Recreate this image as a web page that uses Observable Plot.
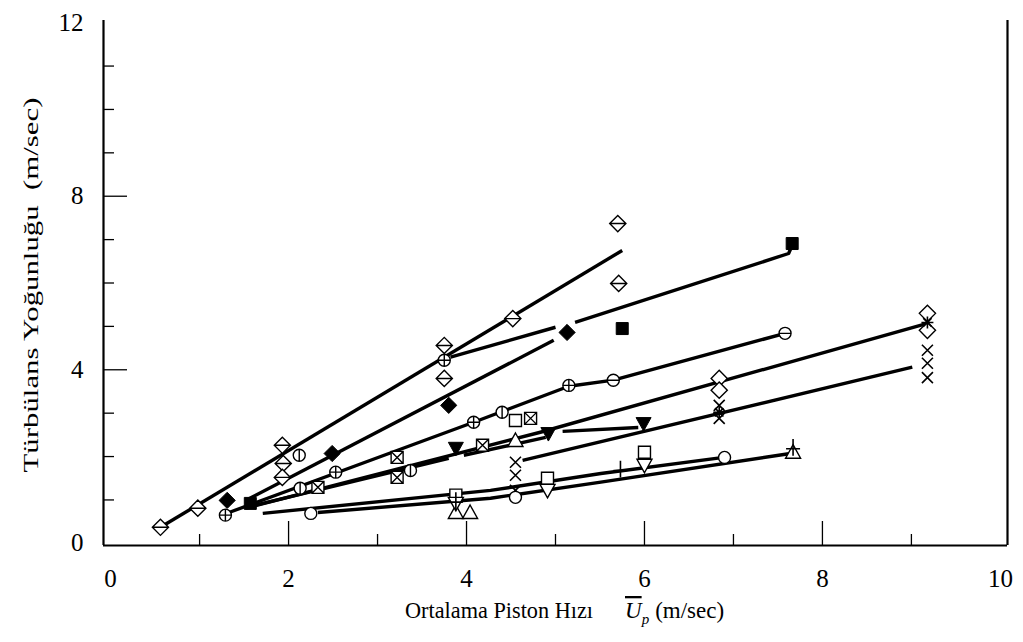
<!DOCTYPE html>
<html><head><meta charset="utf-8">
<script src="https://cdn.jsdelivr.net/npm/d3@7"></script>
<script src="https://cdn.jsdelivr.net/npm/@observablehq/plot@0.6"></script>
<style>
body{margin:0;background:#fff}
svg text{font-family:"Liberation Serif",serif !important;}
</style>
</head><body><div id="chart"></div>
<script>
// ---- axis ticks ----
const xLabelTicks = [0, 2, 4, 6, 8, 10];
const yLabelTicks = [0, 4, 8, 12];
const xMajorTicks = [2, 4, 6, 8];
const xMinorTicks = [1, 3, 5, 7, 9];
const yMajorTicks = [4, 8];
const yMinorTicks = [1, 2, 3, 5, 6, 7, 9, 10, 11];
const xTitle = "Ortalama Piston Hızı";
const yTitle = "Türbülans Yoğunluğu  (m/sec)";

// ---- fitted lines (mean piston speed, turbulence intensity) ----
const lineA  = [[0.56,0.37],[5.75,6.75]];
const lineB  = [[1.52,0.99],[4.98,4.68]];
const lineC1 = [[3.82,4.29],[5.00,4.98]];
const lineC2 = [[5.22,5.09],[7.62,6.68],[7.66,6.87]];
const lineD  = [[1.33,0.71],[4.08,2.79],[5.15,3.62],[5.65,3.76],[7.58,4.84]];
const lineE  = [[1.52,0.81],[4.83,2.56],[9.18,5.07]];
const lineF  = [[4.63,1.91],[9.01,4.06]];
const lineG  = [[1.71,0.69],[4.27,1.22],[5.51,1.61],[6.89,1.98]];
const lineH  = [[2.33,0.71],[4.27,1.04],[5.51,1.41],[7.64,2.07]];
const lineI1 = [[1.63,0.88],[3.80,1.96]];
const lineI2 = [[3.97,2.03],[4.89,2.44]];
const lineI3 = [[5.08,2.58],[5.93,2.67]];

// ---- measured points, one array per symbol ----
const diamondBarPts = [[0.56,0.37],[0.98,0.81],[1.93,2.26],[1.94,1.84],[1.93,1.52],[3.75,4.56],[3.75,3.80],[4.52,5.18],[5.70,7.37],[5.71,5.99]];
const openDiamondPts = [[9.18,5.30],[9.18,4.91],[6.84,3.80],[6.84,3.53]];
const timesPts = [[9.18,4.45],[9.18,4.15],[9.18,3.82],[6.84,3.18],[6.84,2.88],[4.55,1.87],[4.55,1.57],[4.55,1.22]];
const asteriskPts = [[9.18,5.09],[6.84,3.02]];
const circlePlusPts = [[1.29,0.65],[2.53,1.64],[3.75,4.22],[4.08,2.79],[5.15,3.64]];
const circleMinusPts = [[5.65,3.76],[7.58,4.84]];
const circleVertPts = [[2.12,2.03],[2.13,1.27],[3.37,1.68],[4.40,3.02]];
const squareXPts = [[2.33,1.29],[3.22,1.52],[3.22,1.98],[4.18,2.26],[4.72,2.88]];
const openCirclePts = [[2.25,0.69],[4.55,1.06],[6.90,1.98]];
const openSquarePts = [[3.88,1.11],[4.91,1.50],[6.00,2.10],[4.55,2.83]];
const triangleUpPts = [[3.88,0.71],[4.04,0.71],[4.55,2.37],[7.67,2.10]];
const triangleDownPts = [[3.88,0.92],[4.91,1.22],[6.00,1.80]];
const filledTriDownPts = [[3.88,2.19],[4.92,2.53],[5.99,2.76]];
const filledDiamondPts = [[1.31,0.99],[2.49,2.07],[3.80,3.18],[5.13,4.86]];
const filledSquarePts = [[1.57,0.92],[5.75,4.95],[7.66,6.91]];
const plusPts = [[5.73,1.68],[7.67,2.18],[3.88,0.95]];

// ---- build line table ----
const lineSets = {lineA,lineB,lineC1,lineC2,lineD,lineE,lineF,lineG,lineH,lineI1,lineI2,lineI3};
const lineTable = Object.entries(lineSets).flatMap(([id, pts]) => pts.map(([x,y]) => ({id, x, y})));

// ---- custom symbols ----
const sym = f => ({draw(c, size){ const r = Math.sqrt(size/Math.PI); f(c, r); }});
const diamondPath = (c,a) => {c.moveTo(0,-a);c.lineTo(a,0);c.lineTo(0,a);c.lineTo(-a,0);c.closePath();};
const diamondBar = sym((c,r)=>{const a=r*1.35; diamondPath(c,a); c.moveTo(-a,0); c.lineTo(a,0);});
const diamondOpen = sym((c,r)=>{diamondPath(c,r*1.35);});
const circleOnly = sym((c,r)=>{c.moveTo(r,0); c.arc(0,0,r,0,2*Math.PI);});
const circlePlus = sym((c,r)=>{c.moveTo(r,0); c.arc(0,0,r,0,2*Math.PI); c.moveTo(-r,0);c.lineTo(r,0);c.moveTo(0,-r);c.lineTo(0,r);});
const circleMinus = sym((c,r)=>{c.moveTo(r,0); c.arc(0,0,r,0,2*Math.PI); c.moveTo(-r,0);c.lineTo(r,0);});
const circleVert = sym((c,r)=>{c.moveTo(r,0); c.arc(0,0,r,0,2*Math.PI); c.moveTo(0,-r);c.lineTo(0,r);});
const squareOnly = sym((c,r)=>{c.rect(-r,-r,2*r,2*r);});
const squareX = sym((c,r)=>{c.rect(-r,-r,2*r,2*r); c.moveTo(-r,-r);c.lineTo(r,r);c.moveTo(r,-r);c.lineTo(-r,r);});
const triUp = sym((c,r)=>{const a=r*1.25; c.moveTo(0,-a); c.lineTo(a,a*0.8); c.lineTo(-a,a*0.8); c.closePath();});
const triDown = sym((c,r)=>{const a=r*1.25; c.moveTo(0,a); c.lineTo(a,-a*0.8); c.lineTo(-a,-a*0.8); c.closePath();});
const timesSym = sym((c,r)=>{c.moveTo(-r,-r);c.lineTo(r,r);c.moveTo(r,-r);c.lineTo(-r,r);});
const plusSym = sym((c,r)=>{c.moveTo(-r,0);c.lineTo(r,0);c.moveTo(0,-r*1.4);c.lineTo(0,r);});
const asteriskSym = sym((c,r)=>{c.moveTo(-r,0);c.lineTo(r,0);c.moveTo(0,-r);c.lineTo(0,r);c.moveTo(-r*0.7,-r*0.7);c.lineTo(r*0.7,r*0.7);c.moveTo(r*0.7,-r*0.7);c.lineTo(-r*0.7,r*0.7);});

const xy = {x: d=>d[0], y: d=>d[1]};
const openDot = (data, symbol, r=6) => Plot.dot(data, {...xy, symbol, r, fill:"white", stroke:"black", strokeWidth:1.4});
const solidDot = (data, symbol, r=6) => Plot.dot(data, {...xy, symbol, r, fill:"black", stroke:"black", strokeWidth:1});
const strokeDot = (data, symbol, r=6) => Plot.dot(data, {...xy, symbol, r, fill:"none", stroke:"black", strokeWidth:1.6});

const FRAME_W = 904, FRAME_H = 525;
const chart = Plot.plot({
  width: 1023, height: 642,
  marginLeft: 103, marginRight: 16, marginTop: 20, marginBottom: 97,
  x: {domain: [-0.08, 10.08]},
  y: {domain: [-0.05, 12.05]},
  style: {fontFamily: '"Liberation Serif", serif', fontSize: "24px", background: "white", color: "black"},
  marks: [
    Plot.ruleX([-0.08], {stroke:"black", strokeWidth:2.2}),
    Plot.ruleX([10.08], {stroke:"black", strokeWidth:2.2}),
    Plot.ruleY([-0.05], {stroke:"black", strokeWidth:2.2}),
    Plot.tickX(xMajorTicks, {x: d=>d, insetTop: FRAME_H-24, stroke:"black", strokeWidth:1.3}),
    Plot.tickX(xMinorTicks, {x: d=>d, insetTop: FRAME_H-11, stroke:"black", strokeWidth:1.3}),
    Plot.tickY(yMajorTicks, {y: d=>d, insetRight: FRAME_W-24, stroke:"black", strokeWidth:1.3}),
    Plot.tickY(yMinorTicks, {y: d=>d, insetRight: FRAME_W-11, stroke:"black", strokeWidth:1.3}),
    Plot.axisX(xLabelTicks, {anchor:"bottom", tickSize:0, tickPadding:24, label:null, fontSize:25}),
    Plot.axisY(yLabelTicks, {anchor:"left", tickSize:0, tickPadding:20, label:null, fontSize:25}),
    Plot.line(lineTable, {x:"x", y:"y", z:"id", stroke:"black", strokeWidth:3.4, strokeLinecap:"butt"}),
    openDot(diamondBarPts, diamondBar, 6),
    openDot(openDiamondPts, diamondOpen, 6),
    strokeDot(timesPts, timesSym, 5.5),
    strokeDot(asteriskPts, asteriskSym, 6),
    openDot(circlePlusPts, circlePlus, 6),
    openDot(circleMinusPts, circleMinus, 6),
    openDot(circleVertPts, circleVert, 6),
    openDot(squareXPts, squareX, 6),
    openDot(openCirclePts, circleOnly, 6),
    openDot(openSquarePts, squareOnly, 6),
    openDot(triangleUpPts, triUp, 6),
    openDot(triangleDownPts, triDown, 6),
    solidDot(filledTriDownPts, triDown, 6),
    solidDot(filledDiamondPts, diamondOpen, 6),
    solidDot(filledSquarePts, squareOnly, 6),
    strokeDot(plusPts, plusSym, 7)
  ]
});

const svg = d3.select(chart);
// y title
svg.append("text")
  .attr("transform", "translate(38,285) rotate(-90)")
  .attr("text-anchor", "middle")
  .attr("font-size", 22)
  .attr("fill", "black")
  .attr("textLength", 375)
  .attr("lengthAdjust", "spacingAndGlyphs")
  .text(yTitle);
// x title
const xt = svg.append("text")
  .attr("text-anchor", "start")
  .attr("font-size", 23)
  .attr("fill", "black")
  .attr("y", 618);
xt.append("tspan").attr("x", 405).attr("textLength", 188).attr("lengthAdjust", "spacingAndGlyphs").text(xTitle);
xt.append("tspan").attr("x", 625).attr("font-style", "italic").attr("text-decoration", "overline").text("U");
xt.append("tspan").attr("font-style", "italic").attr("font-size", 15).attr("dy", 6).text("p");
xt.append("tspan").attr("dy", -6).attr("dx", 6).text("(m/sec)");

document.getElementById("chart").appendChild(chart);
</script>
</body></html>
